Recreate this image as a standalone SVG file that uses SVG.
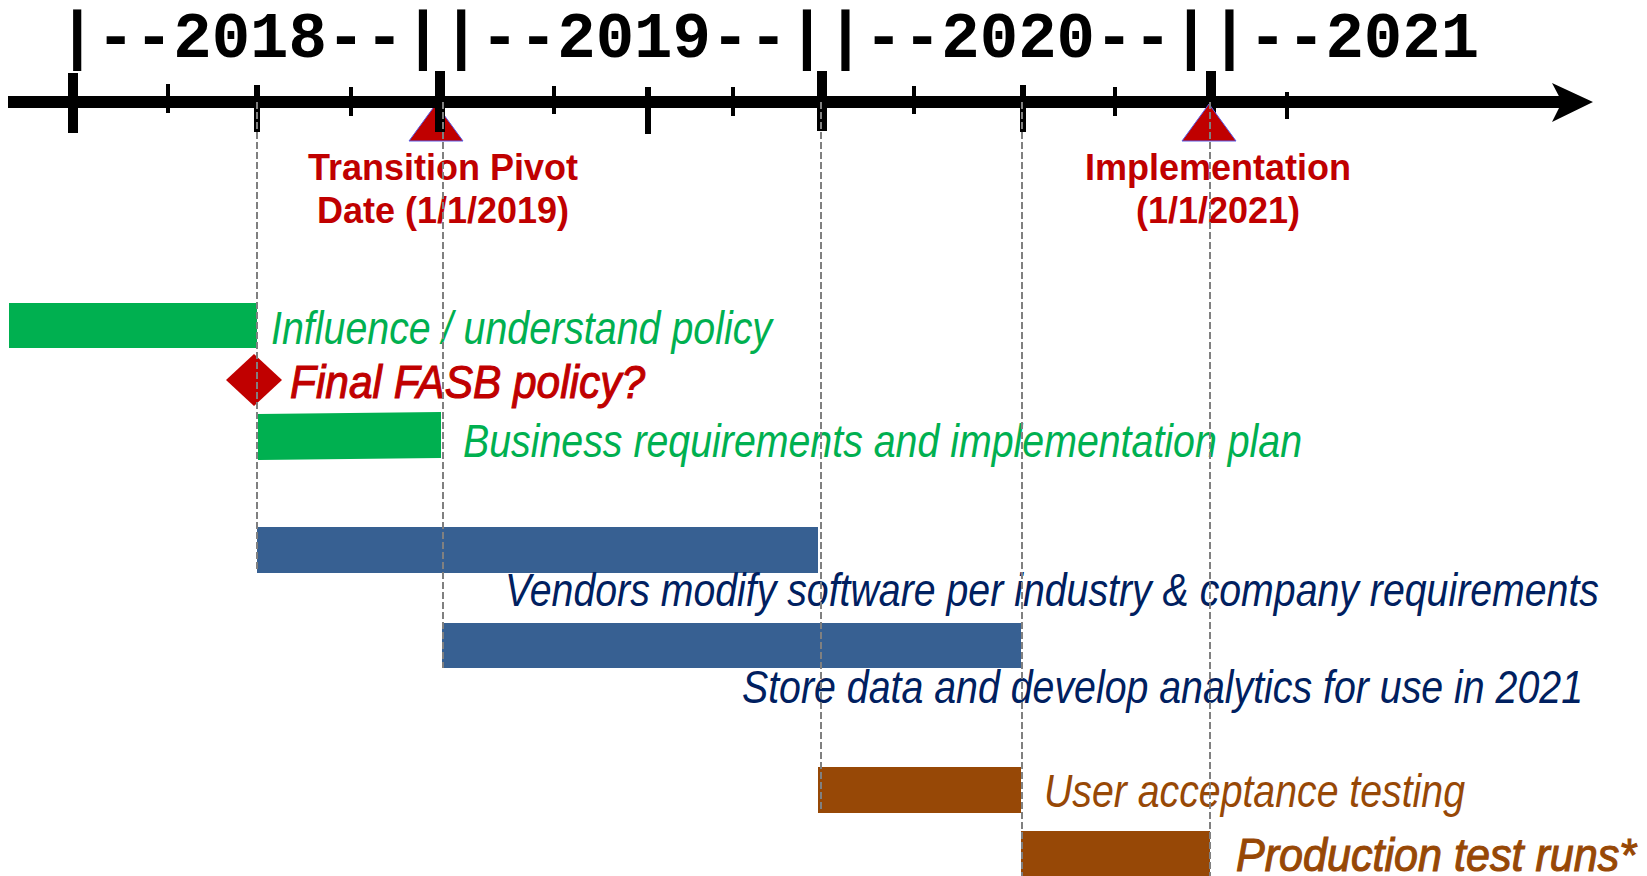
<svg xmlns="http://www.w3.org/2000/svg" width="1647" height="876" viewBox="0 0 1647 876">
<style>
.yr{font-family:"Liberation Mono","Courier New",monospace;font-weight:bold;font-size:64px;fill:#000}
.ms{font-family:"Liberation Sans",Arial,sans-serif;font-weight:bold;font-size:36px;fill:#C00000;text-anchor:middle}
.lb{font-family:"Liberation Sans Narrow","Liberation Sans",Arial,sans-serif;font-style:italic;font-size:46px}
.g{fill:#00B050}.r{fill:#C00000}.b{fill:#376092}.n{fill:#002060}.o{fill:#974806}
.semi-r{stroke:#C00000;stroke-width:1.1}
.semi-o{stroke:#974806;stroke-width:1.1}
.tk{fill:#000}
.guide{stroke:#808080;stroke-width:2;stroke-dasharray:7 3;fill:none}
.tri{fill:#C00000;stroke:#5B5BE6;stroke-width:1}
</style>
<rect width="1647" height="876" fill="#fff"/>

<g id="year-labels">
<text class="yr" x="58" y="57">|--2018--||--2019--||--2020--||--2021</text>
</g>

<g id="milestone-transition">
<polygon class="tri" points="409,141 463,141 436,104"/>
</g>

<g id="axis">
<rect class="tk" x="8" y="96" width="1556" height="12"/>
<polygon class="tk" points="1552,83 1593,102 1552,122 1562,102"/>
<rect class="tk" x="68" y="73" width="10" height="60"/>
<rect class="tk" x="166" y="84" width="4" height="29"/>
<rect class="tk" x="254" y="85" width="6" height="47"/>
<rect class="tk" x="349" y="87" width="4" height="29"/>
<rect class="tk" x="435" y="71" width="10" height="61"/>
<rect class="tk" x="552" y="86" width="4" height="28"/>
<rect class="tk" x="645" y="87" width="6" height="47"/>
<rect class="tk" x="731" y="87" width="4" height="29"/>
<rect class="tk" x="817" y="71" width="10" height="60"/>
<rect class="tk" x="912" y="86" width="4" height="28"/>
<rect class="tk" x="1020" y="85" width="6" height="47"/>
<rect class="tk" x="1113" y="87" width="4" height="29"/>
<rect class="tk" x="1206" y="71" width="10" height="60"/>
<rect class="tk" x="1285" y="92" width="4" height="27"/>
</g>

<g id="milestone-implementation">
<polygon class="tri" points="1182,141 1236,141 1209,104"/>
<text class="ms" x="1218" y="180">Implementation</text>
<text class="ms" x="1218" y="223">(1/1/2021)</text>
</g>

<g id="milestone-transition-label">
<text class="ms" x="443" y="180">Transition Pivot</text>
<text class="ms" x="443" y="223">Date (1/1/2019)</text>
</g>

<g id="task-influence">
<rect class="g" x="9" y="303" width="248" height="45"/>
<text class="lb g" x="271" y="344" textLength="501" lengthAdjust="spacingAndGlyphs">Influence / understand policy</text>
</g>

<g id="milestone-fasb">
<polygon class="r" points="254,354 282,380 254,406 226,380"/>
<text class="lb r semi-r" x="290" y="398" textLength="355" lengthAdjust="spacingAndGlyphs">Final FASB policy?</text>
</g>

<g id="task-business">
<polygon class="g" points="258,414 441,412 441,458 258,460"/>
<text class="lb g" x="463" y="457" textLength="839" lengthAdjust="spacingAndGlyphs">Business requirements and implementation plan</text>
</g>

<g id="task-vendors">
<rect class="b" x="257" y="527" width="561" height="46"/>
<text class="lb n" x="505" y="606" textLength="1094" lengthAdjust="spacingAndGlyphs">Vendors modify software per industry &amp; company requirements</text>
</g>

<g id="task-store">
<rect class="b" x="442" y="623" width="579" height="45"/>
<text class="lb n" x="742" y="703" textLength="841" lengthAdjust="spacingAndGlyphs">Store data and develop analytics for use in 2021</text>
</g>

<g id="task-uat">
<rect class="o" x="818" y="767" width="203" height="46"/>
<text class="lb o" x="1044" y="807" textLength="421" lengthAdjust="spacingAndGlyphs">User acceptance testing</text>
</g>

<g id="task-production">
<rect class="o" x="1021" y="831" width="189" height="45"/>
<text class="lb o semi-o" x="1236" y="871" textLength="400" lengthAdjust="spacingAndGlyphs">Production test runs*</text>
</g>

<g id="connectors">
<line class="guide" x1="257" y1="102" x2="257" y2="571"/>
<line class="guide" x1="443" y1="102" x2="443" y2="668"/>
<line class="guide" x1="821" y1="102" x2="821" y2="811"/>
<line class="guide" x1="1022" y1="102" x2="1022" y2="876"/>
<line class="guide" x1="1210" y1="102" x2="1210" y2="876"/>
</g>
</svg>
